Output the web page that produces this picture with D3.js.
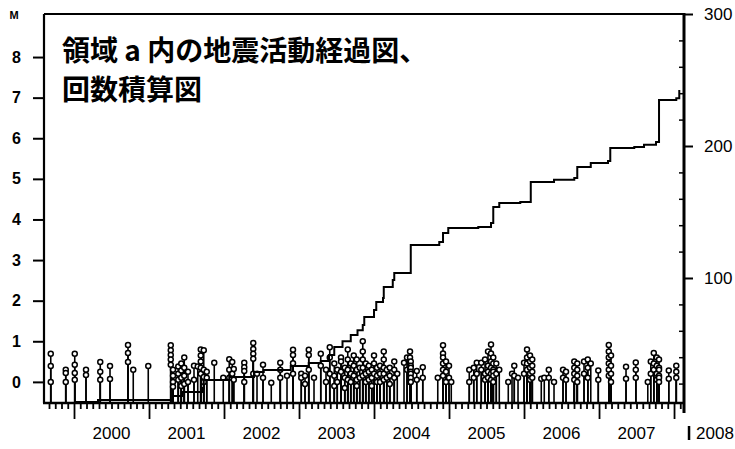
<!DOCTYPE html>
<html>
<head>
<meta charset="utf-8">
<script src="https://cdn.jsdelivr.net/npm/d3@7"></script>
<style>
    body { margin: 0; background: #fff; }
    svg { display: block; }
</style>
</head>
<body>
<svg id="chart" width="735" height="449"></svg>
<script>
// quake times (decimal year) and the magnitudes stacked at each time
const eventTimes = [
    1999.69, 1999.89, 2000.01, 2000.16, 2000.35, 2000.48, 2000.72, 2000.79, 2000.99,
    2001.29, 2001.32, 2001.39, 2001.43, 2001.47, 2001.52, 2001.60, 2001.65, 2001.69,
    2001.73, 2001.77, 2001.87, 2001.99, 2002.07, 2002.11, 2002.13, 2002.27, 2002.39,
    2002.44, 2002.52, 2002.63, 2002.75, 2002.84, 2002.92, 2003.03, 2003.08, 2003.13,
    2003.20, 2003.29, 2003.36, 2003.41, 2003.47, 2003.51, 2003.56, 2003.61, 2003.65,
    2003.69, 2003.73, 2003.77, 2003.81, 2003.85, 2003.89, 2003.93, 2003.97, 2004.00,
    2004.04, 2004.08, 2004.13, 2004.17, 2004.21, 2004.27, 2004.31, 2004.40, 2004.44,
    2004.48, 2004.49, 2004.57, 2004.65, 2004.85, 2004.92, 2004.96, 2005.00, 2005.03,
    2005.27, 2005.33, 2005.37, 2005.43, 2005.48, 2005.52, 2005.56, 2005.59, 2005.63,
    2005.67, 2005.79, 2005.84, 2005.87, 2005.92, 2006.00, 2006.04, 2006.08, 2006.11,
    2006.23, 2006.27, 2006.33, 2006.40, 2006.52, 2006.56, 2006.67, 2006.71, 2006.80,
    2006.85, 2006.89, 2006.99, 2007.13, 2007.16, 2007.36, 2007.49, 2007.65, 2007.69,
    2007.73, 2007.77, 2007.80, 2007.93, 2008.03
];
const eventMags = [
    [0.69, 0.39, 0.0], [0.30, 0.22, 0.0], [0.69, 0.42, 0.22, 0.05], [0.30, 0.17], [0.49, 0.25, 0.05],
    [0.39, 0.07], [0.91, 0.71, 0.49], [0.30], [0.39],
    [0.90, 0.78, 0.66, 0.55, 0.42], [0.30, 0.15, 0.0, -0.12], [0.38, 0.2, 0.05], [0.45, 0.28, 0.1, -0.1],
    [0.60, 0.35, 0.15, -0.05], [0.25, 0.0], [0.40, 0.05], [0.38], [0.80, 0.65, 0.5, 0.35, 0.2],
    [0.78, 0.3, 0.12, 0.0], [0.25, 0.1], [0.47], [0.1], [0.56, 0.3, 0.1], [0.49, 0.2], [0.32, 0.05],
    [0.47, 0.36, 0.27, 0.0], [0.96, 0.81, 0.69, 0.57, 0.2],
    [0.2], [0.42, 0.1], [-0.02], [0.47, 0.30, 0.1], [0.15], [0.79, 0.66, 0.46, 0.2], [0.2, 0.1],
    [0.15, -0.05], [0.79, 0.66, 0.3],
    [0.1], [0.69, 0.4], [0.3, 0.0], [0.85, 0.6, 0.2], [0.45, 0.15, -0.1], [0.3, 0.0], [0.6, 0.5, 0.25],
    [0.35, 0.1, -0.15], [0.8, 0.55, 0.3, 0.05],
    [0.45, 0.2, 0.0], [0.65, 0.4, 0.15], [0.55, 0.3, 0.05, -0.1], [0.35, 0.1], [1.0, 0.75, 0.55, 0.35, 0.15],
    [0.45, 0.2, 0.0], [0.4, 0.25, 0.05], [0.3, 0.1, -0.1], [0.65, 0.45, 0.2],
    [0.35, 0.15, 0.0], [0.4, 0.2, 0.0], [0.75, 0.55, 0.35, 0.2, 0.05], [0.3, 0.1], [0.35, 0.15, -0.05],
    [0.5, 0.3, 0.1], [0.2], [0.47], [0.6, 0.3],
    [0.75, 0.6, 0.45, 0.3, 0.15, 0.0], [0.5, 0.4, 0.35, 0.25, 0.2, 0.1, 0.0], [0.27, 0.05], [0.36, 0.1],
    [0.1], [0.9, 0.7, 0.6, 0.45, 0.3, 0.15], [0.5, 0.25, 0.0], [0.4, 0.1], [0.0],
    [0.3, 0.0], [0.35, 0.1], [0.47, 0.2], [0.47, 0.3], [0.55, 0.2, 0.05], [0.75, 0.4, 0.25, 0.1],
    [0.92, 0.7, 0.5, 0.35, 0.2, 0.05], [0.6, 0.45, 0.3, 0.25, 0.15, 0.0], [0.45, 0.2],
    [0.3], [0.0], [0.2], [0.4, 0.15], [0.1], [0.47, 0.2], [0.8, 0.6, 0.45, 0.3],
    [0.65, 0.5, 0.35, 0.2, 0.05], [0.55, 0.4, 0.25, 0.1],
    [0.08], [0.1], [0.3, 0.1], [0.0], [0.3, 0.1], [0.25, 0.05], [0.5, 0.35, 0.2, 0.05],
    [0.45, 0.3, 0.15, 0.0], [0.5, 0.2],
    [0.55, 0.35, 0.1], [0.45], [0.28, 0.05], [0.91, 0.75, 0.6, 0.45, 0.3, 0.15], [0.65, 0.4, 0.2, 0.0],
    [0.37, 0.08], [0.48, 0.3, 0.1], [0.0], [0.5, 0.2],
    [0.71, 0.45, 0.3], [0.6, 0.4, 0.2, 0.05], [0.55, 0.35, 0.3, 0.15, 0.1, 0.0], [0.28, 0.08], [0.4, 0.25, 0.1]
];

// cumulative count curve (right axis), step values
const cumTimes = [
    2000.00, 2000.32, 2001.32, 2001.44, 2001.71, 2001.73, 2002.07, 2002.40, 2002.53, 2002.89,
    2003.13, 2003.29, 2003.40, 2003.47, 2003.58, 2003.69, 2003.78, 2003.85, 2003.87, 2004.00,
    2004.03, 2004.12, 2004.13, 2004.25, 2004.27, 2004.49, 2004.87, 2004.92, 2004.99, 2005.39,
    2005.56, 2005.59, 2005.67, 2005.95, 2006.09, 2006.40, 2006.67, 2006.71, 2006.89, 2007.12,
    2007.15, 2007.47, 2007.60, 2007.76, 2007.80, 2008.03, 2008.07
];
const cumCounts = [
    6.1, 7.6, 10.6, 13.6, 16.7, 22.7, 25.0, 28.8, 30.3, 33.3,
    35.6, 37.1, 41.7, 47.7, 52.0, 56.8, 60.5, 64.4, 70.5, 75.8,
    81.8, 84.8, 93.2, 98.5, 103.8, 125.0, 127.3, 134.1, 137.9, 138.6,
    141.7, 153.8, 156.8, 157.6, 172.7, 174.5, 175.8, 184.1, 187.1, 188.6,
    198.5, 199.2, 201.0, 203.0, 234.9, 236.1, 242.4
];

const magTicks = [0, 1, 2, 3, 4, 5, 6, 7, 8];
const countTicks = [100, 200, 300];
const countMinor = [20, 40, 60, 80, 120, 140, 160, 180, 220, 240, 260, 280];
const years = [2000, 2001, 2002, 2003, 2004, 2005, 2006, 2007];
const lastYear = 2008;
const titleLines = ["領域 a 内の地震活動経過図、", "回数積算図"];

const svg = d3.select("#chart");
const plotL = 44, plotR = 684, plotT = 14, plotB = 403;

const x = d3.scaleLinear().domain([1999.6, 2008.133]).range([plotL, plotR]);
const yM = d3.scaleLinear().domain([-0.52, 9.06]).range([plotB, plotT]);
const yC = d3.scaleLinear().domain([5.3, 300]).range([plotB, plotT]);

const numFont = "'Liberation Sans', Arial, sans-serif";

// flatten the stacks into single events
const events = [];
eventTimes.forEach((t, i) => eventMags[i].forEach(m => events.push({ t: t, m: m })));

svg.append("clipPath").attr("id", "plot-clip")
    .append("rect").attr("x", plotL).attr("y", plotT).attr("width", plotR - plotL).attr("height", plotB - plotT);

// stems first, then the little open circles on top
const quakes = svg.append("g");
quakes.selectAll("line")
    .data(events)
    .join("line")
    .attr("x1", d => x(d.t)).attr("x2", d => x(d.t))
    .attr("y1", plotB).attr("y2", d => yM(d.m) + 2.5)
    .attr("stroke", "#000").attr("stroke-width", 1.6);
quakes.selectAll("circle")
    .data(events)
    .join("circle")
    .attr("cx", d => x(d.t)).attr("cy", d => yM(d.m))
    .attr("r", 2.5)
    .attr("fill", "#fff").attr("stroke", "#000").attr("stroke-width", 1.5);

// cumulative number line
const cum = cumTimes.map((t, i) => [t, cumCounts[i]]);
svg.append("path")
    .datum(cum)
    .attr("clip-path", "url(#plot-clip)")
    .attr("fill", "none").attr("stroke", "#000").attr("stroke-width", 2)
    .attr("d", d3.line().x(d => x(d[0])).y(d => yC(d[1])).curve(d3.curveStepAfter));

// frame
svg.append("line").attr("x1", plotL).attr("x2", plotR).attr("y1", plotT).attr("y2", plotT)
    .attr("stroke", "#000").attr("stroke-width", 2.2);
svg.append("line").attr("x1", plotL).attr("x2", plotL).attr("y1", plotT).attr("y2", plotB)
    .attr("stroke", "#000").attr("stroke-width", 2.2);
svg.append("line").attr("x1", plotR).attr("x2", plotR).attr("y1", plotT - 1).attr("y2", plotB + 10)
    .attr("stroke", "#000").attr("stroke-width", 3);
svg.append("line").attr("x1", plotL - 1).attr("x2", plotR).attr("y1", plotB).attr("y2", plotB)
    .attr("stroke", "#000").attr("stroke-width", 2.6);

// left magnitude axis
const leftAxis = svg.append("g")
    .attr("transform", `translate(${plotL},0)`)
    .call(d3.axisLeft(yM).tickValues(magTicks).tickSize(11).tickPadding(12).tickFormat(d3.format("d")));
leftAxis.select(".domain").remove();
leftAxis.selectAll("line").attr("stroke-width", 2);
leftAxis.selectAll("text").attr("font-family", numFont).attr("font-size", 16).attr("font-weight", 700).attr("fill", "#000");

svg.append("text").attr("x", 14).attr("y", 19).attr("text-anchor", "middle")
    .attr("font-family", numFont).attr("font-size", 11).attr("font-weight", 700).text("M");

// right count axis
const rightAxis = svg.append("g")
    .attr("transform", `translate(${plotR},0)`)
    .call(d3.axisRight(yC).tickValues(countTicks).tickSize(9).tickPadding(11).tickFormat(d3.format("d")));
rightAxis.select(".domain").remove();
rightAxis.selectAll("line").attr("stroke-width", 2);
rightAxis.selectAll("text").attr("font-family", numFont).attr("font-size", 17).attr("fill", "#000");

const rightMinor = svg.append("g")
    .attr("transform", `translate(${plotR},0)`)
    .call(d3.axisLeft(yC).tickValues(countMinor).tickSize(5).tickFormat(""));
rightMinor.select(".domain").remove();
rightMinor.selectAll("line").attr("stroke-width", 1.5);

// bottom time axis: monthly ticks, longer at year starts
const months = d3.range(-4, 98).map(k => 2000 + k / 12);
const bottomAxis = svg.append("g")
    .attr("transform", `translate(0,${plotB})`)
    .call(d3.axisBottom(x).tickValues(months).tickSizeOuter(0).tickFormat(""));
bottomAxis.select(".domain").remove();
bottomAxis.selectAll(".tick line")
    .attr("y2", d => Math.abs(d - Math.round(d)) < 1e-6 ? 16 : 6)
    .attr("stroke-width", 1.8);

svg.append("g").selectAll("text")
    .data(years)
    .join("text")
    .attr("x", d => x(d + 0.5))
    .attr("y", 439)
    .attr("text-anchor", "middle")
    .attr("font-family", numFont).attr("font-size", 17)
    .text(d => d);

// the last year sits past the frame, after a short bar
svg.append("line")
    .attr("x1", x(lastYear + 0.2)).attr("x2", x(lastYear + 0.2)).attr("y1", 426).attr("y2", 440)
    .attr("stroke", "#000").attr("stroke-width", 2.5);
svg.append("text")
    .attr("x", x(lastYear + 0.2) + 7)
    .attr("y", 439)
    .attr("font-family", numFont).attr("font-size", 17)
    .text(lastYear);

// title inside the plot
svg.append("g").selectAll("text")
    .data(titleLines)
    .join("text")
    .attr("x", 62)
    .attr("y", (d, i) => 61 + i * 39)
    .attr("font-family", "'Noto Sans CJK JP', sans-serif")
    .attr("font-size", 28).attr("font-weight", 700)
    .text(d => d);
</script>
</body>
</html>
